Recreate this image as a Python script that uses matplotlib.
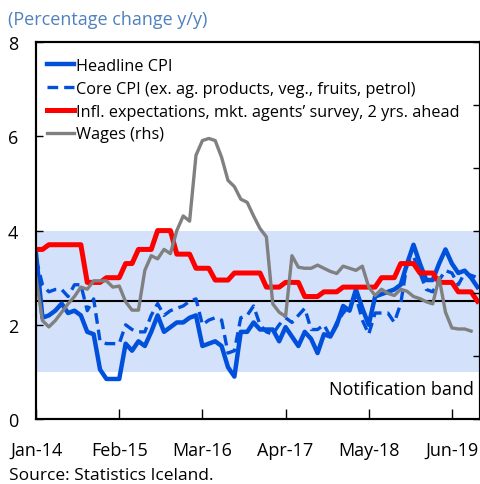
import numpy as np
import matplotlib
matplotlib.use('Agg')
import matplotlib.pyplot as plt

plt.rcParams['font.family'] = ['Open Sans', 'DejaVu Sans']

# Monthly, Jan-14 onwards
tick_labels = ['Jan-14', 'Feb-15', 'Mar-16', 'Apr-17', 'May-18', 'Jun-19']

headline_cpi = [3.5, 2.15, 2.2, 2.3, 2.45, 2.25, 2.3, 2.2, 1.85, 1.8,
                1.05, 0.85, 0.85, 0.85, 1.6, 1.45, 1.65, 1.55, 1.85, 2.2,
                1.85, 1.95, 2.05, 2.05, 2.15, 2.2, 1.55, 1.6, 1.65, 1.55,
                1.1, 0.9, 1.85, 1.85, 2.05, 1.9, 1.9, 1.9, 1.65, 1.95,
                1.75, 1.55, 1.85, 1.7, 1.4, 1.8, 1.75, 2.0, 2.4, 2.3,
                2.75, 2.35, 2.0, 2.6, 2.65, 2.7, 2.75, 2.85, 3.3, 3.7,
                3.3, 2.95, 2.95, 3.3, 3.6, 3.3, 3.1, 3.15, 3.0, 2.8]

core_cpi = [3.4, 2.85, 2.7, 2.75, 2.75, 2.6, 2.85, 2.85, 2.3, 2.55,
            1.65, 1.6, 1.6, 1.6, 2.0, 1.9, 1.85, 1.85, 2.2, 2.45,
            2.2, 2.3, 2.35, 2.4, 2.5, 2.55, 2.0, 2.1, 2.15, 2.1,
            1.4, 1.45, 2.15, 2.2, 2.4, 2.0, 1.85, 1.8, 2.0, 2.15,
            2.05, 2.2, 2.35, 1.9, 1.9, 2.0, 1.75, 2.05, 2.25, 2.4,
            2.6, 2.1, 1.8, 2.25, 2.25, 2.25, 2.05, 2.45, 3.3, 3.45,
            3.1, 2.75, 2.7, 2.95, 3.15, 3.1, 2.85, 3.1, 3.05, 3.0]

infl_expect = [3.6, 3.6, 3.7, 3.7, 3.7, 3.7, 3.7, 3.7, 2.9, 2.9,
               2.9, 3.0, 3.0, 3.0, 3.3, 3.3, 3.6, 3.6, 3.6, 4.0,
               4.0, 4.0, 3.5, 3.5, 3.5, 3.2, 3.2, 3.2, 2.95, 2.95,
               2.95, 3.1, 3.1, 3.1, 3.1, 3.1, 2.8, 2.8, 2.8, 2.9,
               2.9, 2.9, 2.6, 2.6, 2.6, 2.7, 2.7, 2.7, 2.8, 2.8,
               2.8, 2.8, 2.8, 2.8, 3.0, 3.0, 3.0, 3.3, 3.3, 3.3,
               3.1, 3.1, 3.1, 2.9, 2.9, 2.9, 2.7, 2.7, 2.7, 2.5]

# rhs, percent
wages = [6.75, 4.7, 4.4, 4.7, 5.1, 5.5, 5.85, 6.3, 6.2, 6.6,
         6.6, 6.6, 6.3, 6.35, 5.6, 5.2, 5.2, 7.1, 7.8, 7.65,
         8.1, 7.9, 9.0, 9.7, 9.45, 12.6, 13.3, 13.4, 13.3, 12.5,
         11.4, 11.1, 10.5, 10.35, 9.7, 9.1, 8.7, 5.5, 5.1, 4.9,
         7.8, 7.25, 7.2, 7.2, 7.35, 7.2, 7.05, 6.95, 7.3, 7.2,
         7.1, 7.3, 6.3, 5.9, 6.2, 6.0, 5.9, 6.2, 6.1, 5.85,
         5.75, 5.6, 5.5, 6.75, 5.1, 4.35, 4.3, 4.3, 4.2]

band_low, band_high, target = 1, 4, 2.5

blue = '#0050dc'
fig = plt.figure(figsize=(4.81, 4.85), dpi=100)
ax = fig.add_axes([0.075, 0.134, 0.923, 0.777])
ax2 = ax.twinx()

ax.axhspan(band_low, band_high, color='#d3e1fa', lw=0, zorder=0)
ax.axhline(target, color='black', lw=1.5, zorder=1)

ax.plot(np.arange(len(headline_cpi)), headline_cpi, color=blue, lw=3.2, label='Headline CPI')
ax.plot(np.arange(len(core_cpi)), core_cpi, color=blue, lw=2.4, ls=(0, (3.2, 1.8)),
        label='Core CPI (ex. ag. products, veg., fruits, petrol)')
ax.plot(np.arange(len(infl_expect)), infl_expect, color='#ff0000', lw=3.6,
        label='Infl. expectations, mkt. agents\u2019 survey, 2 yrs. ahead')
ax2.plot(np.arange(len(wages)), wages, color='#808080', lw=2.4)
ax.plot([], [], color='#808080', lw=2.4, label='Wages (rhs)')

ax.set_xlim(0, 69.4)
ax.set_ylim(0, 8)
ax2.set_ylim(0, 18)
ax2.set_yticks(np.arange(0, 19, 3))
ax2.tick_params(axis='y', direction='in', length=5, width=1, labelright=False)

ax.set_yticks([0, 2, 4, 6, 8])
ax.tick_params(axis='y', direction='in', length=5, width=1, labelsize=13, pad=13)
ax.set_xticks(np.arange(0, 66, 13))
ax.set_xticklabels(tick_labels)
ax.tick_params(axis='x', direction='in', length=7, width=1, labelsize=13, pad=16)
for sp in ax.spines.values():
    sp.set_linewidth(1.5)
for sp in ax2.spines.values():
    sp.set_linewidth(1.5)

leg = ax.legend(loc='upper left', frameon=False, fontsize=11.7, handlelength=1.7,
                handletextpad=0.1, labelspacing=0.42, borderpad=0, borderaxespad=0,
                bbox_to_anchor=(0.024, 0.958))

ax.text(0.985, 0.08, 'Notification band', transform=ax.transAxes, ha='right',
        va='center', fontsize=13)
fig.text(0.016, 0.959, '(Percentage change y/y)', color='#4f81bd', fontsize=13,
         va='center')
fig.text(0.018, 0.018, 'Source: Statistics Iceland.', fontsize=12.5, va='center')

fig.savefig('out.png', dpi=100)
